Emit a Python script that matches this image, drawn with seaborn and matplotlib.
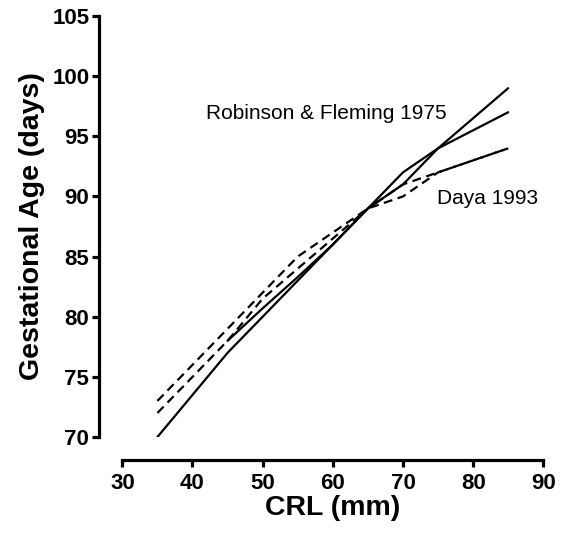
"""CRL vs gestational age: Robinson & Fleming 1975 against Daya 1993."""

import pandas as pd
import matplotlib
matplotlib.use("Agg")
import matplotlib.pyplot as plt
import seaborn as sns

# data (CRL in mm, GA in days)
crl = [35, 40, 45, 50, 55, 60, 65, 70, 75, 80, 85]
crl_short = [45, 50, 55, 60, 65, 70, 75, 80, 85]

robinson_a = [70, 73.5, 77, 80, 83, 86, 89, 92, 94, 95.5, 97]
robinson_b = [78, 80.7, 83.3, 86, 89, 91, 94, 96.5, 99]
daya_a = [73, 76, 79, 82, 85, 87, 89, 90, 92, 93, 94]
daya_b = [72, 75, 78, 81.5, 84, 86.5, 89, 91, 92, 93, 94]

label_robinson = "Robinson & Fleming 1975"
label_daya = "Daya 1993"

x_ticks = [30, 40, 50, 60, 70, 80, 90]
y_ticks = [70, 75, 80, 85, 90, 95, 100, 105]

sns.set_style("ticks", {"text.color": "black", "xtick.color": "black",
                        "ytick.color": "black", "axes.labelcolor": "black"})
plt.rcParams['font.family'] = ['Liberation Sans', 'DejaVu Sans']

fig = plt.figure(figsize=(5.65, 5.39), dpi=100)
ax = fig.add_axes([0.2165, 0.1892, 0.7451, 0.7811])

# solid curves
for xs, ys in [(crl, robinson_a), (crl_short, robinson_b)]:
    df = pd.DataFrame({"crl": xs, "ga": ys})
    sns.lineplot(data=df, x="crl", y="ga", ax=ax, color="black", linewidth=1.6)

# dashed curves
for ys in [daya_a, daya_b]:
    df = pd.DataFrame({"crl": crl, "ga": ys})
    sns.lineplot(data=df, x="crl", y="ga", ax=ax, color="black",
                 linewidth=1.6, dashes=False, linestyle=(0, (4, 2.5)))

ax.text(41.9, 96.9, label_robinson, fontsize=15, va="center", ha="left", color="black")
ax.text(74.8, 89.8, label_daya, fontsize=15, va="center", ha="left", color="black")

ax.set_xlim(30, 90)
ax.set_ylim(70, 105)
ax.set_xticks(x_ticks)
ax.set_yticks(y_ticks)

# prism-like detached axes
sns.despine(ax=ax)
ax.spines['left'].set_position(('outward', 16.8))
ax.spines['bottom'].set_position(('outward', 16.6))
for s in ['left', 'bottom']:
    ax.spines[s].set_linewidth(2.3)
    ax.spines[s].set_color("black")
ax.tick_params(axis='both', width=2.3, length=5, color="black",
               labelcolor="black", labelsize=16, pad=2)
ax.tick_params(axis='x', pad=4)
for lab in ax.get_xticklabels() + ax.get_yticklabels():
    lab.set_fontweight("bold")

ax.set_xlabel("CRL (mm)", fontsize=20.5, fontweight="bold", labelpad=1, color="black")
ax.set_ylabel("Gestational Age (days)", fontsize=20.5, fontweight="bold", labelpad=5, color="black")

fig.savefig("out.png", dpi=100)
